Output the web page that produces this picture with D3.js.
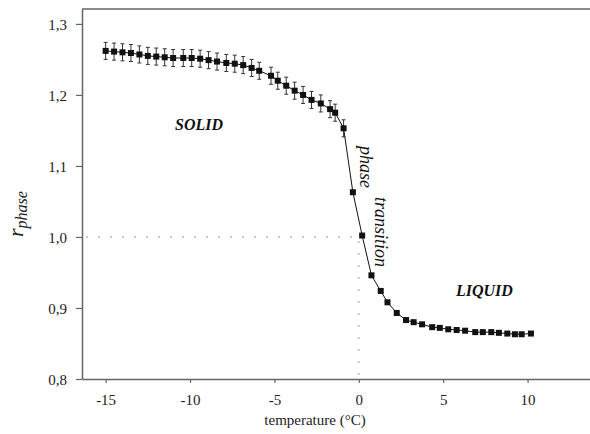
<!DOCTYPE html>
<html>
<head>
<meta charset="utf-8">
<script src="https://cdn.jsdelivr.net/npm/d3@7"></script>
<style>
  html, body { margin: 0; padding: 0; background: #fff; }
  #chart { width: 590px; height: 434px; }
  text { font-family: "Liberation Serif", "Times New Roman", serif; }
</style>
</head>
<body>
<div id="chart"></div>
<script>
// temperature (°C) of each measurement
const temperature = [
  -15.0, -14.5, -14.0, -13.5, -13.0, -12.5, -12.0, -11.5, -11.0, -10.4,
  -9.9, -9.4, -8.9, -8.4, -7.85, -7.35, -6.85, -6.35, -5.9, -5.2,
  -4.8, -4.3, -3.8, -3.3, -2.8, -2.25, -1.7, -1.4, -0.9, -0.35,
  0.2, 0.75, 1.3, 1.7, 2.25, 2.8, 3.25, 3.75, 4.35, 4.8,
  5.3, 5.8, 6.3, 6.9, 7.35, 7.85, 8.3, 8.8, 9.25, 9.65, 10.2
];
// r phase values
const rPhase = [
  1.262, 1.261, 1.260, 1.259, 1.257, 1.255, 1.254, 1.253, 1.252, 1.252,
  1.252, 1.251, 1.249, 1.247, 1.245, 1.244, 1.242, 1.238, 1.234, 1.227,
  1.220, 1.213, 1.206, 1.200, 1.193, 1.188, 1.180, 1.175, 1.153, 1.063,
  1.002, 0.946, 0.924, 0.908, 0.893, 0.883, 0.880, 0.877, 0.873, 0.872,
  0.870, 0.869, 0.868, 0.866, 0.866, 0.866, 0.865, 0.864, 0.863, 0.863, 0.864
];
// error (+/-), zero where no bar is visible
const rError = [
  0.012, 0.012, 0.012, 0.012, 0.012, 0.012, 0.012, 0.012, 0.012, 0.012,
  0.012, 0.012, 0.012, 0.012, 0.012, 0.012, 0.012, 0.012, 0.012, 0.012,
  0.012, 0.012, 0.012, 0.012, 0.012, 0.012, 0.012, 0.012, 0.012, 0,
  0, 0, 0, 0, 0, 0, 0, 0, 0, 0,
  0, 0, 0, 0, 0, 0, 0, 0, 0, 0, 0
];
const xTicks = [-15, -10, -5, 0, 5, 10];
const yTicks = [0.8, 0.9, 1.0, 1.1, 1.2, 1.3];

const data = temperature.map((t, i) => ({ t, v: rPhase[i], e: rError[i] }));

const width = 590, height = 434;
const axisColor = '#666';

const svg = d3.select('#chart')
  .append('svg')
  .attr('width', width)
  .attr('height', height);

// Scales (plot area is cut off at the right edge of the figure)
const x = d3.scaleLinear()
  .domain([-16.4, 13.7])
  .range([82, 590]);

const y = d3.scaleLinear()
  .domain([0.8, 1.321])
  .range([379, 9]);

// Dotted guide lines at r = 1.0 and T = 0
const guides = svg.append('g')
  .attr('stroke', '#c8c8c8')
  .attr('stroke-width', 2)
  .attr('stroke-dasharray', '2,10');

guides.append('line')
  .attr('x1', x.range()[0] + 4).attr('x2', x(0))
  .attr('y1', y(1.0)).attr('y2', y(1.0));

guides.append('line')
  .attr('x1', x(0)).attr('x2', x(0))
  .attr('y1', y(0.8) - 4).attr('y2', y(1.0));

// Top frame line
svg.append('line')
  .attr('x1', x.range()[0]).attr('x2', x.range()[1])
  .attr('y1', y.range()[1]).attr('y2', y.range()[1])
  .attr('stroke', axisColor)
  .attr('stroke-width', 1.5);

// X axis
const xAxis = svg.append('g')
  .attr('transform', `translate(0,${y(0.8)})`)
  .call(d3.axisBottom(x)
    .tickValues(xTicks)
    .tickSize(4)
    .tickSizeOuter(0)
    .tickPadding(11)
    .tickFormat(d => String(d)));

// Y axis
const yAxis = svg.append('g')
  .attr('transform', `translate(${x.range()[0]},0)`)
  .call(d3.axisLeft(y)
    .tickValues(yTicks)
    .tickSize(6)
    .tickSizeOuter(0)
    .tickPadding(9)
    .tickFormat(d => d3.format('.1f')(d).replace('.', ',')));

[xAxis, yAxis].forEach(ax => {
  ax.select('.domain').attr('stroke', axisColor).attr('stroke-width', 1.5);
  ax.selectAll('.tick line').attr('stroke', axisColor).attr('stroke-width', 1.2);
  ax.selectAll('.tick text')
    .attr('fill', '#222')
    .style('font-size', '15px')
    .style('font-family', '"Liberation Serif", serif');
});
yAxis.selectAll('.tick text').attr('dy', '0.36em');

// Connecting line
svg.append('path')
  .datum(data)
  .attr('fill', 'none')
  .attr('stroke', '#111')
  .attr('stroke-width', 1)
  .attr('d', d3.line().x(d => x(d.t)).y(d => y(d.v)));

// Error bars
const eb = svg.append('g')
  .attr('stroke', '#333')
  .attr('stroke-width', 1)
  .selectAll('g')
  .data(data.filter(d => d.e > 0))
  .enter()
  .append('g');

eb.append('line')
  .attr('x1', d => x(d.t)).attr('x2', d => x(d.t))
  .attr('y1', d => y(d.v - d.e)).attr('y2', d => y(d.v + d.e));

eb.append('line')
  .attr('x1', d => x(d.t) - 2).attr('x2', d => x(d.t) + 2)
  .attr('y1', d => y(d.v + d.e)).attr('y2', d => y(d.v + d.e));

eb.append('line')
  .attr('x1', d => x(d.t) - 2).attr('x2', d => x(d.t) + 2)
  .attr('y1', d => y(d.v - d.e)).attr('y2', d => y(d.v - d.e));

// Square markers
const m = 6;
svg.selectAll('.marker')
  .data(data)
  .enter()
  .append('rect')
  .attr('class', 'marker')
  .attr('x', d => x(d.t) - m / 2)
  .attr('y', d => y(d.v) - m / 2)
  .attr('width', m)
  .attr('height', m)
  .attr('fill', '#111');

// Region labels
svg.append('text')
  .attr('x', 175).attr('y', 130)
  .style('font-size', '16px')
  .style('font-weight', 'bold')
  .style('font-style', 'italic')
  .attr('fill', '#111')
  .text('SOLID');

svg.append('text')
  .attr('x', 456).attr('y', 296)
  .style('font-size', '16px')
  .style('font-weight', 'bold')
  .style('font-style', 'italic')
  .attr('fill', '#111')
  .text('LIQUID');

svg.append('text')
  .attr('transform', 'translate(360,146) rotate(90)')
  .style('font-size', '18px')
  .style('font-style', 'italic')
  .attr('fill', '#111')
  .text('phase');

svg.append('text')
  .attr('transform', 'translate(375,197) rotate(90)')
  .style('font-size', '18px')
  .style('font-style', 'italic')
  .attr('fill', '#111')
  .text('transition');

// Axis titles
svg.append('text')
  .attr('x', 315).attr('y', 425)
  .attr('text-anchor', 'middle')
  .style('font-size', '15px')
  .attr('fill', '#222')
  .text('temperature (\u00B0C)');

const yLabel = svg.append('text')
  .attr('transform', 'translate(23,214) rotate(-90)')
  .attr('text-anchor', 'middle')
  .style('font-style', 'italic')
  .attr('fill', '#222');

yLabel.append('tspan')
  .style('font-size', '22px')
  .text('r');

yLabel.append('tspan')
  .attr('dy', 4)
  .style('font-size', '16px')
  .text('phase');
</script>
</body>
</html>
